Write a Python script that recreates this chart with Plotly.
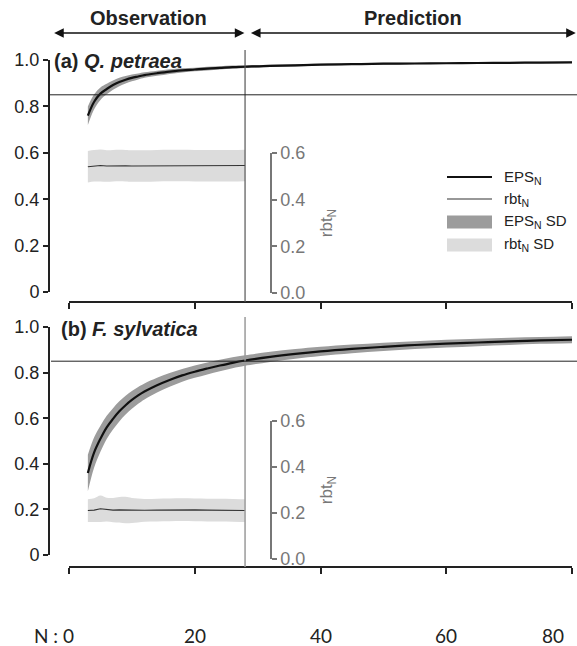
import plotly.graph_objects as go

W, H = 577, 646


def px(xp):
    return xp / W


def py(yp):
    return 1 - yp / H


# ---------------- data ----------------
N_eps = [3, 4, 5, 6, 7, 8, 9, 10, 11, 12, 14, 16, 18, 20, 22, 24, 26, 28,
         32, 36, 40, 45, 50, 55, 60, 65, 70, 75, 80]
eps_a = [0.760, 0.820, 0.855, 0.875, 0.892, 0.905, 0.915, 0.923, 0.929, 0.935, 0.943, 0.950,
         0.955, 0.959, 0.963, 0.966, 0.969, 0.971, 0.975, 0.977, 0.980, 0.982, 0.984, 0.985,
         0.986, 0.987, 0.988, 0.989, 0.990]
eps_a_sd = [0.040, 0.032, 0.027, 0.023, 0.020, 0.018, 0.016, 0.015, 0.013, 0.012, 0.011, 0.010,
            0.009, 0.008, 0.008, 0.007, 0.007, 0.006, 0.005, 0.005, 0.004, 0.004, 0.004, 0.003,
            0.003, 0.003, 0.003, 0.003, 0.003]
eps_b = [0.360, 0.450, 0.510, 0.560, 0.597, 0.630, 0.657, 0.680, 0.700, 0.717, 0.745, 0.768,
         0.788, 0.804, 0.818, 0.831, 0.843, 0.853, 0.869, 0.882, 0.893, 0.904, 0.913, 0.921,
         0.927, 0.932, 0.937, 0.941, 0.944]
eps_b_sd = [0.080, 0.066, 0.057, 0.051, 0.047, 0.044, 0.041, 0.039, 0.037, 0.035, 0.032, 0.030,
            0.028, 0.027, 0.026, 0.025, 0.024, 0.023, 0.022, 0.021, 0.020, 0.019, 0.018, 0.017,
            0.017, 0.016, 0.016, 0.015, 0.015]

N_rbt = [3, 4, 5, 6, 7, 8, 9, 10, 12, 14, 16, 18, 20, 22, 24, 26, 28]
rbt_a = [0.540, 0.544, 0.545, 0.543, 0.544, 0.545, 0.544, 0.543, 0.543, 0.544, 0.545, 0.545,
         0.544, 0.544, 0.544, 0.544, 0.545]
rbt_a_sd = [0.068, 0.068, 0.069, 0.068, 0.068, 0.068, 0.068, 0.068, 0.068, 0.068, 0.068, 0.068,
            0.068, 0.068, 0.068, 0.068, 0.068]
rbt_b = [0.195, 0.197, 0.203, 0.199, 0.197, 0.198, 0.197, 0.195, 0.196, 0.197, 0.198, 0.199,
         0.198, 0.197, 0.197, 0.196, 0.195]
rbt_b_sd = [0.050, 0.052, 0.058, 0.052, 0.053, 0.056, 0.058, 0.055, 0.050, 0.050, 0.050, 0.050,
            0.050, 0.050, 0.050, 0.050, 0.050]

N_split = 28
threshold = 0.85
y_ticks = [0, 0.2, 0.4, 0.6, 0.8, 1.0]
y_ticktext = ["0", "0.2", "0.4", "0.6", "0.8", "1.0"]
rbt_ticks = [0, 0.2, 0.4, 0.6]
rbt_ticktext = ["0.0", "0.2", "0.4", "0.6"]
n_ticks = [0, 20, 40, 60, 80]
n_labels = ["N : 0", "20", "40", "60", "80"]
panel_titles = ["(a) <i>Q. petraea</i>", "(b) <i>F. sylvatica</i>"]
legend_labels = ["EPS<sub>N</sub>", "rbt<sub>N</sub>", "EPS<sub>N</sub> SD", "rbt<sub>N</sub> SD"]

# ---------------- styles ----------------
EPS_COL = "#111111"
RBT_COL = "#333333"
EPS_SD_COL = "#9c9c9c"
RBT_SD_COL = "#dcdcdc"
AX_COL = "#222222"
SEC_COL = "#777777"
FONT = "Liberation Sans, Arial, sans-serif"

fig = go.Figure()


def add_band(xs, m, s, color, xa, ya, shape):
    lo = [a - b for a, b in zip(m, s)]
    hi = [a + b for a, b in zip(m, s)]
    fig.add_trace(go.Scatter(x=xs, y=lo, mode="lines", line=dict(width=0, shape=shape),
                             showlegend=False, hoverinfo="skip", xaxis=xa, yaxis=ya))
    fig.add_trace(go.Scatter(x=xs, y=hi, mode="lines", line=dict(width=0, shape=shape),
                             fill="tonexty", fillcolor=color, showlegend=False,
                             hoverinfo="skip", xaxis=xa, yaxis=ya))


panels = [
    ("x", "y", eps_a, eps_a_sd, rbt_a, rbt_a_sd),
    ("x2", "y2", eps_b, eps_b_sd, rbt_b, rbt_b_sd),
]
for xa, ya, e, es, r, rs in panels:
    add_band(N_rbt, r, rs, RBT_SD_COL, xa, ya, "spline")
    add_band(N_eps, e, es, EPS_SD_COL, xa, ya, "spline")
    fig.add_trace(go.Scatter(x=N_rbt, y=r, mode="lines", line=dict(color=RBT_COL, width=1.1),
                             showlegend=False, xaxis=xa, yaxis=ya))
    fig.add_trace(go.Scatter(x=N_eps, y=e, mode="lines",
                             line=dict(color=EPS_COL, width=2.2, shape="spline"),
                             showlegend=False, xaxis=xa, yaxis=ya))

# invisible traces so that the secondary rbt axes are drawn
fig.add_trace(go.Scatter(x=[N_split], y=[0], mode="markers", marker=dict(opacity=0),
                         showlegend=False, hoverinfo="skip", xaxis="x", yaxis="y3"))
fig.add_trace(go.Scatter(x=[N_split], y=[0], mode="markers", marker=dict(opacity=0),
                         showlegend=False, hoverinfo="skip", xaxis="x2", yaxis="y4"))

x_dom = [px(69), px(572)]
common_x = dict(domain=x_dom, range=[0, 80], anchor="free", showline=True, linecolor=AX_COL,
                linewidth=2, ticks="outside", ticklen=6, tickwidth=1.5, tickcolor=AX_COL,
                tickvals=n_ticks, showticklabels=False, showgrid=False, zeroline=False,
                automargin=False)
common_y = dict(range=[0, 1], anchor="free", position=px(49), showline=True, linecolor=AX_COL,
                linewidth=2, ticks="outside", ticklen=5, tickwidth=1.5, tickcolor=AX_COL,
                tickvals=y_ticks, ticktext=y_ticktext, showgrid=False, zeroline=False,
                automargin=False, tickfont=dict(family=FONT, size=18, color="#222222"))
sec_y = dict(range=[0, 0.6], anchor="free", position=px(271), side="right", showline=True,
             linecolor=SEC_COL, linewidth=1.5, ticks="outside", ticklen=5, tickwidth=1.5,
             tickcolor=SEC_COL, tickvals=rbt_ticks, ticktext=rbt_ticktext, showgrid=False,
             zeroline=False, automargin=False,
             tickfont=dict(family=FONT, size=18, color=SEC_COL),
             title=dict(text="rbt<sub>N</sub>", font=dict(family=FONT, size=17, color=SEC_COL),
                        standoff=15))

fig.update_layout(
    width=W, height=H,
    margin=dict(l=0, r=0, t=0, b=0, pad=0, autoexpand=False),
    paper_bgcolor="white", plot_bgcolor="rgba(0,0,0,0)",
    showlegend=False,
    xaxis=dict(common_x, position=py(302)),
    xaxis2=dict(common_x, position=py(567)),
    yaxis=dict(common_y, domain=[py(292), py(60)]),
    yaxis2=dict(common_y, domain=[py(555), py(327)]),
    yaxis3=dict(sec_y, domain=[py(293), py(153)]),
    yaxis4=dict(sec_y, domain=[py(559), py(421)]),
)

shapes = []
# observation / prediction split
shapes.append(dict(type="line", xref="x", x0=N_split, x1=N_split, yref="paper",
                   y0=py(302), y1=py(50), line=dict(color="#555555", width=1.2)))
shapes.append(dict(type="line", xref="x2", x0=N_split, x1=N_split, yref="paper",
                   y0=py(567), y1=py(317), line=dict(color="#9a9a9a", width=1.5)))
# 0.85 threshold lines
shapes.append(dict(type="line", xref="paper", x0=px(49), x1=1, yref="y", y0=threshold,
                   y1=threshold, line=dict(color="#222222", width=1)))
shapes.append(dict(type="line", xref="paper", x0=px(51), x1=1, yref="y2", y0=threshold,
                   y1=threshold, line=dict(color="#222222", width=1)))

# manual legend (panel a)
leg_rows = [177, 199, 222, 245]
shapes.append(dict(type="line", xref="paper", yref="paper", x0=px(447), x1=px(492),
                   y0=py(leg_rows[0]), y1=py(leg_rows[0]), line=dict(color=EPS_COL, width=2)))
shapes.append(dict(type="line", xref="paper", yref="paper", x0=px(447), x1=px(492),
                   y0=py(leg_rows[1]), y1=py(leg_rows[1]), line=dict(color=RBT_COL, width=1.1)))
shapes.append(dict(type="rect", xref="paper", yref="paper", x0=px(447), x1=px(492),
                   y0=py(leg_rows[2] + 6.5), y1=py(leg_rows[2] - 6.5), line=dict(width=0),
                   fillcolor=EPS_SD_COL))
shapes.append(dict(type="rect", xref="paper", yref="paper", x0=px(447), x1=px(492),
                   y0=py(leg_rows[3] + 6.5), y1=py(leg_rows[3] - 6.5), line=dict(width=0),
                   fillcolor=RBT_SD_COL))

annotations = []
for lab, r in zip(legend_labels, leg_rows):
    annotations.append(dict(xref="paper", yref="paper", x=px(502), y=py(r), text=lab,
                            showarrow=False, xanchor="left", yanchor="middle",
                            font=dict(family=FONT, size=15, color="#222222")))

# panel titles
annotations.append(dict(xref="paper", yref="paper", x=px(52), y=py(61),
                        text="<b>" + panel_titles[0] + "</b>",
                        showarrow=False, xanchor="left", yanchor="middle",
                        font=dict(family=FONT, size=20, color="#222222")))
annotations.append(dict(xref="paper", yref="paper", x=px(59), y=py(329),
                        text="<b>" + panel_titles[1] + "</b>",
                        showarrow=False, xanchor="left", yanchor="middle",
                        font=dict(family=FONT, size=20, color="#222222")))

# observation / prediction arrows and headers
arrow_y = py(33)
for x0, x1 in [(-2.6, N_split - 0.1), (N_split + 0.7, 80.6)]:
    annotations.append(dict(xref="x", axref="x", x=x1, ax=x0, yref="paper", ayref="pixel",
                            y=arrow_y, ay=0, text="", showarrow=True, arrowhead=2,
                            arrowside="end+start", arrowsize=1.2, arrowwidth=1.6,
                            arrowcolor="#111111", standoff=0, startstandoff=0))
annotations.append(dict(xref="x", yref="paper", x=(-2.6 + N_split) / 2, y=py(18),
                        text="<b>Observation</b>", showarrow=False,
                        xanchor="center", yanchor="middle",
                        font=dict(family=FONT, size=20, color="#222222")))
annotations.append(dict(xref="x", yref="paper", x=(N_split + 0.7 + 80.6) / 2, y=py(18),
                        text="<b>Prediction</b>", showarrow=False,
                        xanchor="center", yanchor="middle",
                        font=dict(family=FONT, size=20, color="#222222")))

# bottom N labels
for i, (v, lab) in enumerate(zip(n_ticks, n_labels)):
    if i == 0:
        anchor, shift = "right", 7
    elif i == len(n_ticks) - 1:
        anchor, shift = "right", -6
    else:
        anchor, shift = "center", 0
    annotations.append(dict(xref="x2", yref="paper", x=v, y=py(635), text=lab,
                            showarrow=False, xanchor=anchor, yanchor="middle", xshift=shift,
                            font=dict(family="Lato, Open Sans, sans-serif", size=19,
                                      color="#222222")))

fig.update_layout(shapes=shapes, annotations=annotations)
fig.write_html("out.html", config={"displayModeBar": False},
               post_script="document.body.style.margin='0px';document.body.style.padding='0px';")
